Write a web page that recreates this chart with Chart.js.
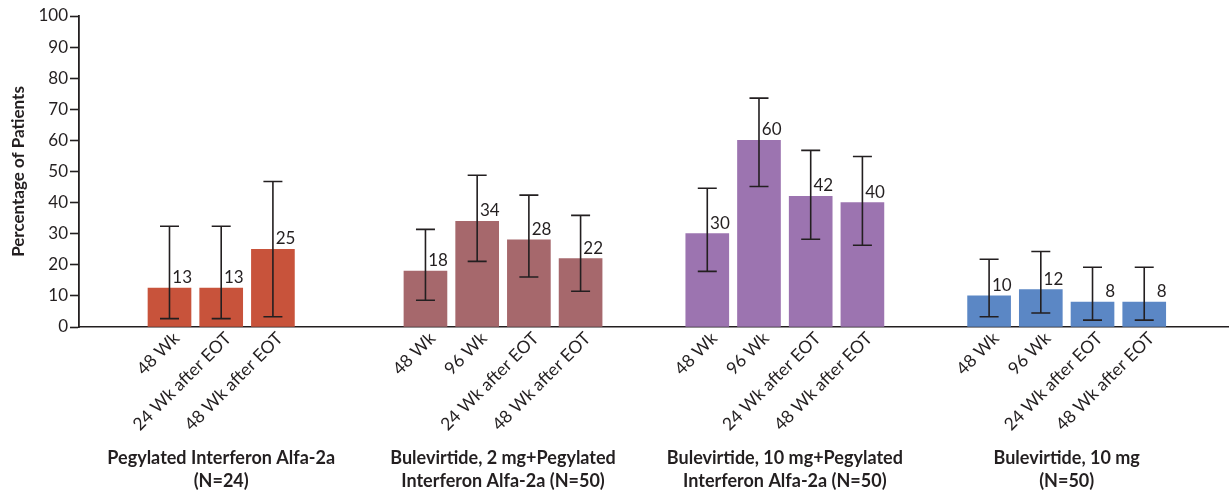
<!DOCTYPE html>
<html>
<head>
<meta charset="utf-8">
<script src="https://cdn.jsdelivr.net/npm/chart.js@4.4.1/dist/chart.umd.min.js"></script>
<style>
  html, body { margin: 0; padding: 0; background: #fff; }
</style>
</head>
<body>
<canvas id="responseChart" width="1230" height="492"></canvas>
<script>
// treatment groups
const groupLabels = [
    ['Pegylated Interferon Alfa-2a', '(N=24)'],
    ['Bulevirtide, 2 mg+Pegylated', 'Interferon Alfa-2a (N=50)'],
    ['Bulevirtide, 10 mg+Pegylated', 'Interferon Alfa-2a (N=50)'],
    ['Bulevirtide, 10 mg', '(N=50)']
];
const timepoints = [
    ['48 Wk', '24 Wk after EOT', '48 Wk after EOT'],
    ['48 Wk', '96 Wk', '24 Wk after EOT', '48 Wk after EOT'],
    ['48 Wk', '96 Wk', '24 Wk after EOT', '48 Wk after EOT'],
    ['48 Wk', '96 Wk', '24 Wk after EOT', '48 Wk after EOT']
];
// percentage of patients, with 95% CI
const percentages = [
    [12.5, 12.5, 25],
    [18, 34, 28, 22],
    [30, 60, 42, 40],
    [10, 12, 8, 8]
];
const ciLower = [
    [2.7, 2.7, 3.3],
    [8.6, 21.1, 16.1, 11.5],
    [17.9, 45.2, 28.2, 26.3],
    [3.3, 4.5, 2.2, 2.2]
];
const ciUpper = [
    [32.4, 32.4, 46.8],
    [31.4, 48.8, 42.4, 35.9],
    [44.6, 73.6, 56.8, 54.8],
    [21.8, 24.3, 19.2, 19.2]
];
const groupColors = ['#c8533b', '#a6686c', '#9c74b0', '#5b87c5'];

const INK = '#231f20';
const FONT = 'Lato, "Open Sans", sans-serif';
// layout along x, in bar steps
const FIRST_CENTER = 2.75;
const GROUP_STEP = 5.45;
const X_MAX = 22.22;

let barX = [], barY = [], barColors = [], tickLabels = [], lowFlat = [], upFlat = [], groupCenters = [];
percentages.forEach(function(vals, g) {
    let center = FIRST_CENTER + g * GROUP_STEP;
    groupCenters.push(center);
    vals.forEach(function(v, i) {
        barX.push(center + (i - (vals.length - 1) / 2));
        barY.push(v);
        barColors.push(groupColors[g]);
        tickLabels.push(timepoints[g][i]);
        lowFlat.push(ciLower[g][i]);
        upFlat.push(ciUpper[g][i]);
    });
});

const errorBars = {
    id: 'errorBars',
    afterDatasetsDraw(chart) {
        const ctx = chart.ctx;
        const y = chart.scales.y;
        const meta = chart.getDatasetMeta(0);
        ctx.save();
        ctx.strokeStyle = INK;
        ctx.lineWidth = 1.6;
        meta.data.forEach(function(bar, i) {
            let top = y.getPixelForValue(upFlat[i]);
            let bot = y.getPixelForValue(lowFlat[i]);
            ctx.beginPath();
            ctx.moveTo(bar.x, top); ctx.lineTo(bar.x, bot);
            ctx.moveTo(bar.x - 9.5, top); ctx.lineTo(bar.x + 9.5, top);
            ctx.moveTo(bar.x - 9.5, bot); ctx.lineTo(bar.x + 9.5, bot);
            ctx.stroke();
        });
        ctx.fillStyle = INK;
        ctx.font = '17px ' + FONT;
        ctx.textAlign = 'right';
        ctx.textBaseline = 'alphabetic';
        meta.data.forEach(function(bar, i) {
            ctx.fillText(String(Math.round(barY[i])), bar.x + bar.width / 2 + 1, bar.y - 5);
        });
        ctx.restore();
    }
};

let ctxB = document.getElementById('responseChart').getContext('2d');
new Chart(ctxB, {
    type: 'bar',
    data: {
        datasets: [{
            data: barX.map(function(x, i) { return { x: x, y: barY[i] }; }),
            backgroundColor: barColors,
            borderWidth: 0,
            barThickness: 43
        }]
    },
    options: {
        responsive: false,
        animation: false,
        devicePixelRatio: 1,
        layout: { padding: { top: 16, right: 2, left: 0, bottom: 0 } },
        plugins: { legend: { display: false }, tooltip: { enabled: false } },
        scales: {
            x: {
                type: 'linear', position: 'bottom', min: 0, max: X_MAX, offset: false,
                grid: { display: false, drawTicks: false },
                border: { display: true, color: INK, width: 1.6 },
                afterBuildTicks: function(s) { s.ticks = barX.map(function(v) { return { value: v }; }); },
                afterFit: function(s) { s.height = 118; },
                ticks: {
                    autoSkip: false, minRotation: 45, maxRotation: 45, padding: 1, labelOffset: 7,
                    color: INK, font: { family: FONT, size: 17.5 },
                    callback: function(v, i) { return tickLabels[i]; }
                }
            },
            groups: {
                type: 'linear', position: 'bottom', min: 0, max: X_MAX, offset: false,
                grid: { display: false, drawTicks: false },
                border: { display: false },
                afterBuildTicks: function(s) { s.ticks = groupCenters.map(function(v) { return { value: v }; }); },
                afterFit: function(s) { s.height = 47; },
                ticks: {
                    autoSkip: false, minRotation: 0, maxRotation: 0, padding: 1,
                    color: INK, font: { family: FONT, size: 18, weight: 'bold', lineHeight: 1.3 },
                    callback: function(v, i) { return groupLabels[i]; }
                }
            },
            y: {
                min: 0, max: 100,
                grid: { drawOnChartArea: false, tickLength: 9, tickColor: INK, tickWidth: 1.6 },
                border: { color: INK, width: 1.8 },
                afterFit: function(s) { s.width = 79; },
                ticks: { stepSize: 10, padding: 2, color: INK, font: { family: FONT, size: 17 } },
                title: {
                    display: true, text: 'Percentage of Patients', color: INK,
                    font: { family: FONT, size: 17, weight: 'bold' }, padding: { top: 8, bottom: 0 }
                }
            }
        }
    },
    plugins: [errorBars]
});
</script>
</body>
</html>
